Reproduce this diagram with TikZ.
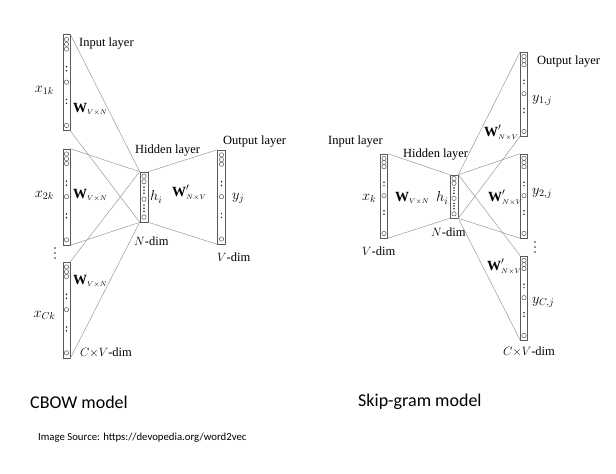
\documentclass[tikz,border=0pt]{standalone}
\usepackage{fontspec}
\setmainfont{Liberation Serif}
\newfontfamily\slidefont{Carlito}
\usepackage{amsmath}
\usetikzlibrary{positioning}

% circles and dots inside a layer box (name, height)
\newcommand{\layerunits}[2]{%
  \foreach \f in {.055,.105,.155,.5,.95}
    \draw[unit] ([yshift={-\f*#2}]#1.north) circle (2.2pt);
  \foreach \f in {.34,.38,.68,.72}
    \fill[unitdot] ([yshift={-\f*#2}]#1.north) circle (0.85pt);
}
\newcommand{\hiddenunits}[2]{%
  \foreach \f in {.09,.2,.55,.91}
    \draw[unit] ([yshift={-\f*#2}]#1.north) circle (2.2pt);
  \foreach \f in {.31,.37,.43,.67,.73,.79}
    \fill[unitdot] ([yshift={-\f*#2}]#1.north) circle (0.85pt);
}
\newcommand{\Wmat}{\mathbf{W}_{\scriptscriptstyle V\times N}}
\newcommand{\Wout}{\mathbf{W}'_{\scriptscriptstyle N\times V}}

\begin{document}
\begin{tikzpicture}[x=1pt,y=-1pt,
every node/.style={
inner sep=0pt,
font=\fontsize{12.5}{14}\selectfont
},
mathlbl/.style={font=\fontsize{14}{16}\selectfont},
layer/.style={draw=black!65,line width=0.6pt,minimum width=7pt},
unit/.style={draw=black!65,line width=0.5pt},
unitdot/.style={black!85},
link/.style={draw=black!40,line width=0.5pt},
caption/.style={font=\slidefont\fontsize{18}{21}\selectfont},
source/.style={font=\slidefont\fontsize{10.75}{13}\selectfont}
]
\useasboundingbox (0,0) rectangle (616,474);

% CBOW model
\node[layer,minimum height=96pt] (in1) at (66.5,82.5) {};
\node[layer,minimum height=96pt] (in2) at (66.5,197) {};
\node[layer,minimum height=96pt] (in3) at (66.5,310) {};
\node[layer,minimum height=50pt,minimum width=8pt] (hid) at (144,197) {};
\node[layer,minimum height=94pt,minimum width=8pt] (out) at (221.5,197) {};

\foreach \n in {in1,in2,in3} {
\layerunits{\n}{96}
\draw[link] (\n.north east) -- (hid.north west);
\draw[link] (\n.south east) -- (hid.south west);
}
\hiddenunits{hid}{50}
\layerunits{out}{94}
\draw[link] (hid.north east) -- (out.north west);
\draw[link] (hid.south east) -- (out.south west);
\foreach \d in {248,253,258}
\fill[unitdot] (55,\d) circle (0.9pt);

\node[anchor=west] (inlbl) at (79,44) {Input layer};
\node[mathlbl] (x1) at (44.5,90) {$x_{1k}$};
\node[mathlbl,anchor=west] (w1) at (73,109) {$\Wmat$};
\node[mathlbl] (x2) at (44.5,195) {$x_{2k}$};
\node[mathlbl,anchor=west] (w2) at (73,195) {$\Wmat$};
\node[mathlbl,anchor=west] (w3) at (73,281) {$\Wmat$};
\node[mathlbl] (x3) at (44.5,315) {$x_{Ck}$};
\node[anchor=west] (cvdim) at (80,353) {$C{\times}V$-dim};
\node[anchor=west] (hidlbl) at (135,151) {Hidden layer};
\node[anchor=west] (outlbl) at (223,142) {Output layer};
\node[mathlbl,anchor=west] (h) at (150,197) {$h_i$};
\node[mathlbl,anchor=west] (wp) at (172,193) {$\Wout$};
\node[mathlbl,anchor=west] (y) at (232,198) {$y_j$};
\node[anchor=west] (ndim) at (134,241) {$N$-dim};
\node[anchor=west] (vdim) at (217,257) {$V$-dim};

% Skip-gram model
\node[layer,minimum height=84pt] (sin) at (384,196) {};
\node[layer,minimum height=43pt,minimum width=8pt] (shid) at (454,196.5) {};
\node[layer,minimum height=84pt] (sout1) at (524,94) {};
\node[layer,minimum height=84pt] (sout2) at (524,196) {};
\node[layer,minimum height=84pt] (sout3) at (524,298) {};

\layerunits{sin}{84}
\hiddenunits{shid}{43}
\draw[link] (sin.north east) -- (shid.north west);
\draw[link] (sin.south east) -- (shid.south west);
\foreach \n in {sout1,sout2,sout3} {
\layerunits{\n}{84}
\draw[link] (shid.north east) -- (\n.north west);
\draw[link] (shid.south east) -- (\n.south west);
}
\foreach \d in {242,247,252}
\fill[unitdot] (535,\d) circle (0.9pt);

\node[anchor=west] (sinlbl) at (328,142) {Input layer};
\node[anchor=west] (shidlbl) at (403,155) {Hidden layer};
\node[anchor=west] (soutlbl) at (537,62) {Output layer};
\node[mathlbl,anchor=west] (sy1) at (532,100) {$y_{1,j}$};
\node[mathlbl,anchor=west] (swp1) at (484,133) {$\Wout$};
\node[mathlbl,anchor=west] (sx) at (362,198) {$x_k$};
\node[mathlbl,anchor=west] (sw) at (395,198) {$\Wmat$};
\node[mathlbl,anchor=west] (sh) at (436,198) {$h_i$};
\node[mathlbl,anchor=west] (swp2) at (488,198) {$\Wout$};
\node[mathlbl,anchor=west] (sy2) at (532,193) {$y_{2,j}$};
\node[anchor=west] (sndim) at (431,232) {$N$-dim};
\node[anchor=west] (svdim) at (362,251) {$V$-dim};
\node[mathlbl,anchor=west] (swp3) at (487,267) {$\Wout$};
\node[mathlbl,anchor=west] (sy3) at (532,302) {$y_{C,j}$};
\node[anchor=west] (scvdim) at (503,352) {$C{\times}V$-dim};

% captions
\node[caption,anchor=west] (cbow) at (30,402) {CBOW model};
\node[caption,anchor=west] (skip) at (358,402) {Skip-gram model};
\node[source,anchor=west] (src) at (38,438) {Image Source: https://devopedia.org/word2vec};

\end{tikzpicture}
\end{document}
